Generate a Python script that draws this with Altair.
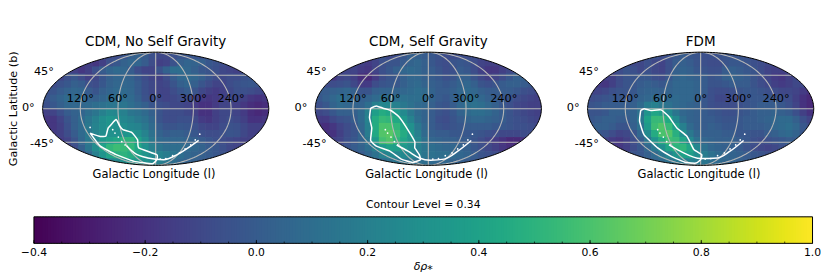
import numpy as np
import pandas as pd
import altair as alt

P1 = [
 [-8]*10+[-8,-3,2,3,0,-6,-10,-10,-6,-3,-3,-3]+[-5]*10,
 [-10]*6+[-15,-18,-14,-6,-2,3,6,5,0,-8,-14,-12,-5,2,5,4,2,-2,-5,-8]+[-8]*6,
 [-8,-8,-8,-8,-14,-18,-14,-6,0,5,8,6,0,-8,-12,-12,-5,3,10,10,6,2,-2,-4,-6,-10,-12,-14,-12,-10,-10,-10],
 [-8,-10,-12,-6,-2,-8,-14,-10,-3,2,5,5,3,-2,-8,-12,-14,-8,0,6,8,6,2,-3,-8,-10,-8,-8,-5,-3,-8,-8],
 [-8,-8,-5,-2,2,0,-6,-8,-2,3,6,6,5,0,-6,-10,-12,-10,-4,2,5,2,-3,-8,-12,-12,-8,-5,-3,-2,-4,-8],
 [-6,-4,0,3,6,5,0,-3,2,5,8,8,6,0,-6,-10,-12,-12,-8,-3,0,-4,-10,-14,-16,-14,-10,-6,-6,-8,-10,-12],
 [-4,0,4,8,8,8,4,2,5,8,10,10,8,2,-5,-8,-10,-12,-10,-8,-8,-12,-16,-18,-16,-14,-10,-10,-14,-18,-20,-18],
 [-6,-2,2,6,6,6,8,10,12,14,14,14,10,6,2,-3,-6,-8,-10,-10,-12,-16,-20,-20,-16,-12,-12,-14,-18,-22,-24,-22],
 [-14,-12,-6,0,3,5,10,14,20,26,24,20,14,12,8,2,-4,-8,-8,-8,-10,-14,-20,-20,-14,-10,-10,-12,-16,-22,-24,-22],
 [-18,-18,-12,-4,2,8,14,20,28,32,30,24,20,16,12,5,-4,-8,-8,-6,-6,-10,-16,-18,-14,-10,-8,-10,-14,-20,-20,-18],
 [-18,-18,-14,-6,2,8,16,22,28,32,30,28,24,22,16,8,0,-4,-4,-2,-3,-6,-10,-12,-12,-8,-5,-6,-10,-14,-14,-14],
 [-14,-16,-14,-8,0,8,16,22,28,30,30,32,34,30,22,12,4,0,2,2,0,-2,-6,-8,-8,-6,-4,-5,-10,-14,-14,-14],
 [-12,-14,-16,-12,-4,6,16,26,34,38,42,50,50,40,28,16,8,6,6,6,4,2,0,-3,-6,-8,-10,-12,-14,-14,-14,-14],
 [-12,-12,-14,-14,-8,2,14,28,40,52,56,54,52,42,30,20,14,10,10,10,8,6,4,0,-2,-6,-10,-12,-14,-14,-14,-14],
 [-10,-10,-10,-10,-10,-6,6,20,32,42,48,50,46,40,32,26,22,18,14,10,6,4,2,0,-2,-5,-8,-10,-10,-10,-10,-10],
 [-5]*9+[20,26,30,34,34,30,26,20,16,10,6,3,2,0,-3]+[-5]*8,
]
P2 = [
 [-5]*10+[-10,-8,-2,2,2,0,-2,-5,-8,-8,-8,-8]+[-8]*10,
 [-12]*6+[-14,-16,-12,-6,-4,-4,0,4,6,2,-2,-6,-8,-4,-2,-4,-8,-12,-14,-14]+[-14]*6,
 [-14,-14,-14,-14,-12,-12,-16,-18,-12,-6,-2,2,6,8,6,2,0,-4,-8,-6,0,-2,-8,-14,-18,-18,-14,-10,-6,-4,-4,-4],
 [-14,-18,-18,-12,-10,-14,-22,-24,-16,-8,-4,-2,2,6,6,2,0,-2,-6,-4,2,2,-4,-10,-14,-12,-8,-2,2,2,0,-2],
 [-6,-8,-8,-6,-4,-10,-16,-16,-8,-4,-2,-2,2,6,8,4,2,0,-2,0,4,6,2,-4,-6,-4,0,2,2,0,-2,-6],
 [0,0,2,4,6,2,-4,-4,2,4,4,4,6,8,10,8,4,0,0,2,6,8,6,2,0,0,0,0,-2,-6,-8,-10],
 [-2,2,6,10,8,6,2,4,8,10,10,10,12,10,10,8,4,0,-2,2,6,10,10,6,2,0,-2,-4,-8,-10,-12,-14],
 [-6,-2,4,8,6,4,4,10,20,24,24,20,16,12,8,6,2,-2,-4,0,6,10,12,10,6,2,-2,-6,-10,-12,-14,-14],
 [-10,-8,-2,2,2,2,8,20,38,46,42,36,26,16,8,4,0,-4,-6,-2,4,8,10,10,8,4,0,-4,-8,-10,-12,-14],
 [-16,-16,-10,-6,-4,0,8,22,46,54,52,44,34,22,10,4,0,-6,-8,-4,0,4,6,6,4,2,0,-4,-6,-8,-10,-12],
 [-20,-22,-18,-12,-8,-4,6,20,46,60,60,52,42,30,16,6,0,-4,-6,-4,-2,0,0,0,0,-2,-2,-4,-6,-6,-8,-10],
 [-18,-20,-20,-14,-8,-4,4,18,44,62,64,56,46,34,20,8,2,0,0,-2,-2,-2,-2,-4,-6,-8,-10,-10,-10,-8,-8,-8],
 [-12,-14,-14,-12,-6,-2,4,14,36,58,62,52,42,34,24,12,6,4,2,2,0,0,-4,-8,-12,-16,-20,-24,-24,-20,-14,-10],
 [-6,-6,-8,-8,-4,0,4,10,20,34,40,38,34,28,20,14,10,8,6,6,4,2,-2,-6,-10,-14,-18,-22,-24,-20,-14,-10],
 [-6,-6,-6,-6,-4,-2,0,6,12,20,24,24,26,24,20,14,12,10,10,8,6,4,0,-4,-6,-8,-10,-12,-12,-12,-12,-12],
 [-2]*9+[8,12,14,14,14,12,10,8,6,6,4,2,0,-2,-4]+[-5]*8,
]
P3 = [
 [-5]*10+[-8,-6,-2,0,-2,-4,-6,-6,-5,-4,-4,-4]+[-5]*10,
 [-10]*6+[-10,-10,-6,-10,-12,-6,0,2,0,-4,-6,-8,-8,-4,-2,-2,-4,-6,-8,-10]+[-10]*6,
 [-10,-10,-10,-10,-8,-4,-6,-10,-6,-10,-12,-6,2,4,2,-2,-4,-6,-6,0,2,0,-2,-4,-8,-12,-14,-14,-10,-8,-8,-8],
 [-10,-12,-14,-14,-8,-4,-4,-2,-2,-6,-8,-2,4,6,4,2,0,-4,-2,2,4,2,0,-4,-8,-12,-16,-18,-14,-10,-8,-8],
 [-14,-16,-18,-14,-8,-4,-2,0,2,0,-2,2,6,6,6,4,0,-4,-4,-2,0,0,0,-4,-8,-10,-14,-16,-14,-10,-10,-12],
 [-12,-12,-10,-6,-4,-4,-2,2,4,4,2,4,6,6,6,4,0,-6,-8,-8,-6,-4,-2,-2,-4,-6,-8,-10,-10,-12,-16,-20],
 [-8,-6,-4,-2,-2,-2,0,4,6,8,8,8,8,6,6,2,-2,-6,-10,-10,-8,-6,-4,-2,-2,-2,-4,-6,-8,-14,-20,-24],
 [-4,-2,0,0,0,0,2,8,18,20,16,12,8,6,4,2,-2,-6,-8,-8,-8,-6,-4,-2,0,0,0,-2,-6,-12,-20,-24],
 [-4,-4,-2,2,2,2,4,12,32,42,38,26,14,6,4,2,0,-2,-4,-6,-6,-4,-2,0,2,2,4,2,0,-6,-14,-20],
 [-2,0,2,2,0,0,4,16,40,54,54,44,26,10,4,2,0,0,-2,-4,-4,-2,0,0,2,4,6,8,8,2,-6,-12],
 [0,2,2,0,-4,-4,2,12,36,56,62,54,38,20,8,2,0,2,0,-2,-2,-2,0,0,0,2,6,8,10,6,-2,-8],
 [-2,-2,-4,-8,-12,-10,-4,6,26,46,60,62,48,30,16,6,2,2,2,0,0,-2,-2,-4,-4,0,2,6,8,4,-2,-6],
 [-6,-8,-12,-16,-18,-14,-8,0,14,32,46,56,54,42,26,12,6,4,2,2,2,0,-2,-6,-8,-6,-4,-2,0,0,-2,-4],
 [-8,-10,-14,-18,-18,-14,-8,-2,6,16,28,42,50,52,42,24,12,6,4,2,2,0,-4,-8,-10,-12,-10,-6,-4,-2,-2,-2],
 [-6,-6,-8,-10,-10,-8,-4,-2,2,8,14,22,32,40,38,28,18,12,8,6,4,2,0,-2,-4,-6,-8,-6,-6,-6,-6,-6],
 [-4]*9+[4,8,12,16,18,20,18,14,10,8,6,4,2,0,-2]+[-4]*8,
]

C1 = [(-.58,-.43),(-.49,-.49),(-.44,-.48),(-.42,-.34),(-.35,-.19),(-.32,-.30),(-.29,-.37),(-.21,-.42),(-.16,-.55),(-.15,-.69),(.01,-.81),(.01,-.90),(-.03,-.97),(-.19,-.93),(-.35,-.81),(-.49,-.66),(-.58,-.43)]
T1 = [(-.26,-.65),(-.19,-.78),(-.07,-.87),(.07,-.90),(.19,-.81),(.31,-.66),(.38,-.56)]
C2 = [(-.51,.01),(-.46,.05),(-.40,.01),(-.33,-.03),(-.26,-.14),(-.20,-.31),(-.12,-.58),(-.12,-.69),(-.08,-.81),(-.07,-.90),(-.14,-.95),(-.24,-.89),(-.34,-.75),(-.46,-.66),(-.51,-.56),(-.50,-.34),(-.52,-.16),(-.51,.01)]
T2 = [(-.28,-.64),(-.18,-.75),(-.08,-.87),(.02,-.91),(.14,-.89),(.26,-.75),(.38,-.56)]
C3 = [(-.53,-.03),(-.50,0),(-.44,-.03),(-.35,-.02),(-.28,-.14),(-.21,-.34),(-.12,-.49),(-.06,-.72),(.01,-.81),(0,-.90),(-.04,-.96),(-.13,-.95),(-.26,-.84),(-.38,-.69),(-.50,-.46),(-.54,-.22),(-.53,-.03)]
T3 = [(-.28,-.64),(-.18,-.75),(0,-.88),(.15,-.87),(.26,-.75),(.38,-.56)]
DOTS = [(-.38,-.37),(-.36,-.43),(-.33,-.50),(-.30,-.58),(-.27,-.64),(.04,-.89),(.09,-.88),(.15,-.83),(.21,-.78),(.26,-.71),(.31,-.64),(.35,-.55),(.39,-.45)]
EXTRA_DOT = [(-.58,-.33)]

TITLES = ["CDM, No Self Gravity", "CDM, Self Gravity", "FDM"]
LON_LABELS = ["120°", "60°", "0°", "300°", "240°"]
LON_POS = [-2/3, -1/3, 0, 1/3, 2/3]
LAT_LABELS = ["45°", "0°", "-45°"]
LAT_X = [-.90, -1.07, -.90]
LAT_Y = [.655, .02, -.63]
CB_MAJOR = [-.4, -.2, 0, .2, .4, .6, .8, 1.0]
CB_LABELS = ["−0.4", "−0.2", "0.0", "0.2", "0.4", "0.6", "0.8", "1.0"]
CB_MINOR = [round(-.4 + .05*i, 2) for i in range(29)]

FONT = "DejaVu Sans"
W, H = 226.7, 113.4
VIR = alt.Scale(scheme="viridis", domain=[-.4, 1.0])
EXTRA = 8.7 / (W / 2)


def theta(lat):
    phi = np.radians(lat)
    t = phi
    for _ in range(60):
        t = t - (2*t + np.sin(2*t) - np.pi*np.sin(phi)) / (2 + 2*np.cos(2*t) + 1e-9)
    return t


def panel(grid, cont, tail, dots, title, left):
    rows = []
    ny, nx = len(grid), 32
    for r, row in enumerate(grid):
        for c, v in enumerate(row):
            rows.append(dict(x0=-1 + 2*c/nx, x1=-1 + 2*(c+1)/nx + .006,
                             y0=1 - 2*r/ny, y1=1 - 2*(r+1)/ny - .012, v=v/100))
    heat_df = pd.DataFrame(rows)
    xs = alt.Scale(domain=[-1 - (EXTRA if left else 0), 1], nice=False, zero=False)
    ys = alt.Scale(domain=[-1, 1], nice=False, zero=False)
    X = lambda f: alt.X(f, type="quantitative", scale=xs, axis=None)
    Y = lambda f: alt.Y(f, type="quantitative", scale=ys, axis=None)

    heat = alt.Chart(heat_df).mark_rect().encode(
        x=X("x0"), x2="x1", y=Y("y0"), y2="y1",
        color=alt.Color("v:Q", scale=VIR, legend=None))

    ex = np.sin(np.linspace(-1, 1, 241)*np.pi/2)
    ey = np.sqrt(np.clip(1 - ex**2, 0, 1))
    ex = np.concatenate([[-1.02], ex, [1.02]])
    ey = np.concatenate([[0], ey, [0]])
    mask_df = pd.DataFrame(dict(x=ex, up=ey, top=1.03, lo=-ey, bot=-1.03))
    m1 = alt.Chart(mask_df).mark_area(color="white").encode(x=X("x"), y=Y("up"), y2="top")
    m2 = alt.Chart(mask_df).mark_area(color="white").encode(x=X("x"), y=Y("lo"), y2="bot")

    grat = []
    for i, lon in enumerate([-120, -60, 0, 60, 120]):
        for lat in np.linspace(-89.9, 89.9, 91):
            t = theta(lat)
            grat.append(dict(g=f"m{i}", o=lat, x=lon/180*np.cos(t), y=np.sin(t)))
    for lat in [-45, 0, 45]:
        t = theta(lat)
        for lon in np.linspace(-180, 180, 41):
            grat.append(dict(g=f"p{lat}", o=lon, x=lon/180*np.cos(t), y=np.sin(t)))
    g = alt.Chart(pd.DataFrame(grat)).mark_line(color="#b8b8b8", strokeWidth=1.1).encode(
        x=X("x"), y=Y("y"), detail="g:N", order="o:Q")

    ell = []
    for i, a in enumerate(np.linspace(0, 2*np.pi, 241)):
        ell.append(dict(i=i, x=np.cos(a), y=np.sin(a)))
    e = alt.Chart(pd.DataFrame(ell)).mark_line(color="black", strokeWidth=1).encode(
        x=X("x"), y=Y("y"), order="i:Q")

    cdf = pd.DataFrame([dict(i=i, x=p[0], y=p[1]) for i, p in enumerate(cont)])
    tdf = pd.DataFrame([dict(i=i, x=p[0], y=p[1]) for i, p in enumerate(tail)])
    ddf = pd.DataFrame(dots, columns=["x", "y"])
    c1 = alt.Chart(cdf).mark_line(color="white", strokeWidth=1.5, interpolate="cardinal", tension=.6).encode(
        x=X("x"), y=Y("y"), order="i:Q")
    c2 = alt.Chart(tdf).mark_line(color="white", strokeWidth=1.5, interpolate="monotone").encode(
        x=X("x"), y=Y("y"), order="i:Q")
    d = alt.Chart(ddf).mark_circle(color="white", size=3, opacity=1).encode(x=X("x"), y=Y("y"))

    lon_df = pd.DataFrame(dict(x=LON_POS, y=[.17]*5, t=LON_LABELS))
    lon_t = alt.Chart(lon_df).mark_text(font=FONT, fontSize=11.3, color="black").encode(
        x=X("x"), y=Y("y"), text="t:N")
    lat_df = pd.DataFrame(dict(x=LAT_X, y=LAT_Y, t=LAT_LABELS))
    lat_t = alt.Chart(lat_df).mark_text(font=FONT, fontSize=11.3, color="black", align="right").encode(
        x=X("x"), y=Y("y"), text="t:N")
    tit = alt.Chart(pd.DataFrame(dict(x=[0], y=[1.18], t=[title]))).mark_text(
        font=FONT, fontSize=13.5, color="black").encode(x=X("x"), y=Y("y"), text="t:N")
    xl = alt.Chart(pd.DataFrame(dict(x=[-.015], y=[-1.17], t=["Galactic Longitude (l)"]))).mark_text(
        font=FONT, fontSize=11.5, color="black").encode(x=X("x"), y=Y("y"), text="t:N")
    layers = [heat, m1, m2, g, e, c1, c2, d, lon_t, lat_t, tit, xl]
    if left:
        yl = alt.Chart(pd.DataFrame(dict(x=[-1.25], y=[0], t=["Galactic Latitude (b)"]))).mark_text(
            font=FONT, fontSize=11.3, color="black", angle=270).encode(x=X("x"), y=Y("y"), text="t:N")
        layers.append(yl)
    return alt.layer(*layers).properties(width=W + (8.7 if left else 0), height=H)


p1 = panel(P1, C1, T1, DOTS + EXTRA_DOT, TITLES[0], True)
p2 = panel(P2, C2, T2, DOTS, TITLES[1], False)
p3 = panel(P3, C3, T3, DOTS, TITLES[2], False)

# colour bar sits in the first grid cell and runs on past it on the same linear scale
CB_W = 780.5
CBH = 26.6
cx = alt.Scale(domain=[-.4, -.4 + 1.4 * (W + 8.7) / CB_W], nice=False, zero=False)
CX = lambda f: alt.X(f, type="quantitative", scale=cx, axis=None)
cb_vals = np.arange(-.4, 1.0 - 1e-9, 0.005)
cb_df = pd.DataFrame(dict(a=cb_vals, b=np.minimum(cb_vals + .008, 1.0), v=cb_vals + .0025))
cb_rect = alt.Chart(cb_df).mark_rect().encode(
    x=CX("a"), x2="b",
    color=alt.Color("v:Q", scale=VIR, legend=None))
t_min = alt.Chart(pd.DataFrame(dict(v=CB_MINOR))).mark_rule(color="black", strokeWidth=.7).encode(
    x=CX("v"), y=alt.value(CBH), y2=alt.value(CBH - 1.8))
t_maj = alt.Chart(pd.DataFrame(dict(v=CB_MAJOR))).mark_rule(color="black", strokeWidth=.8).encode(
    x=CX("v"), y=alt.value(CBH), y2=alt.value(CBH - 3.4))
border = alt.Chart(pd.DataFrame(dict(a=[-.4], b=[1.0]))).mark_rect(fillOpacity=0, stroke="black", strokeWidth=1).encode(
    x=CX("a"), x2="b", y=alt.value(0), y2=alt.value(CBH))
cb_lab = alt.Chart(pd.DataFrame(dict(v=CB_MAJOR, t=CB_LABELS))).mark_text(font=FONT, fontSize=10.8, color="black").encode(
    x=CX("v"), y=alt.value(CBH + 9.5), text="t:N")
cb_tit = alt.Chart(pd.DataFrame(dict(v=[.3], t=["Contour Level = 0.34"]))).mark_text(font=FONT, fontSize=10.8, color="black").encode(
    x=CX("v"), y=alt.value(-12), text="t:N")
cb_xl = alt.Chart(pd.DataFrame(dict(v=[.3], t=["δρ⁎"]))).mark_text(font=FONT, fontSize=11, fontStyle="italic", color="black").encode(
    x=CX("v"), y=alt.value(CBH + 24), text="t:N")
cb = alt.layer(cb_rect, t_min, t_maj, border, cb_lab, cb_tit, cb_xl).properties(width=W + 8.7, height=CBH)

chart = alt.concat(p1, p2, p3, cb, columns=3, spacing={"row": 51, "column": 46}, bounds="flush", align="each").properties(
    padding={"left": 0, "top": 26, "right": 0, "bottom": 0}
).configure_view(stroke=None)

chart.save("out.html", embed_options={"renderer": "svg", "actions": False})
